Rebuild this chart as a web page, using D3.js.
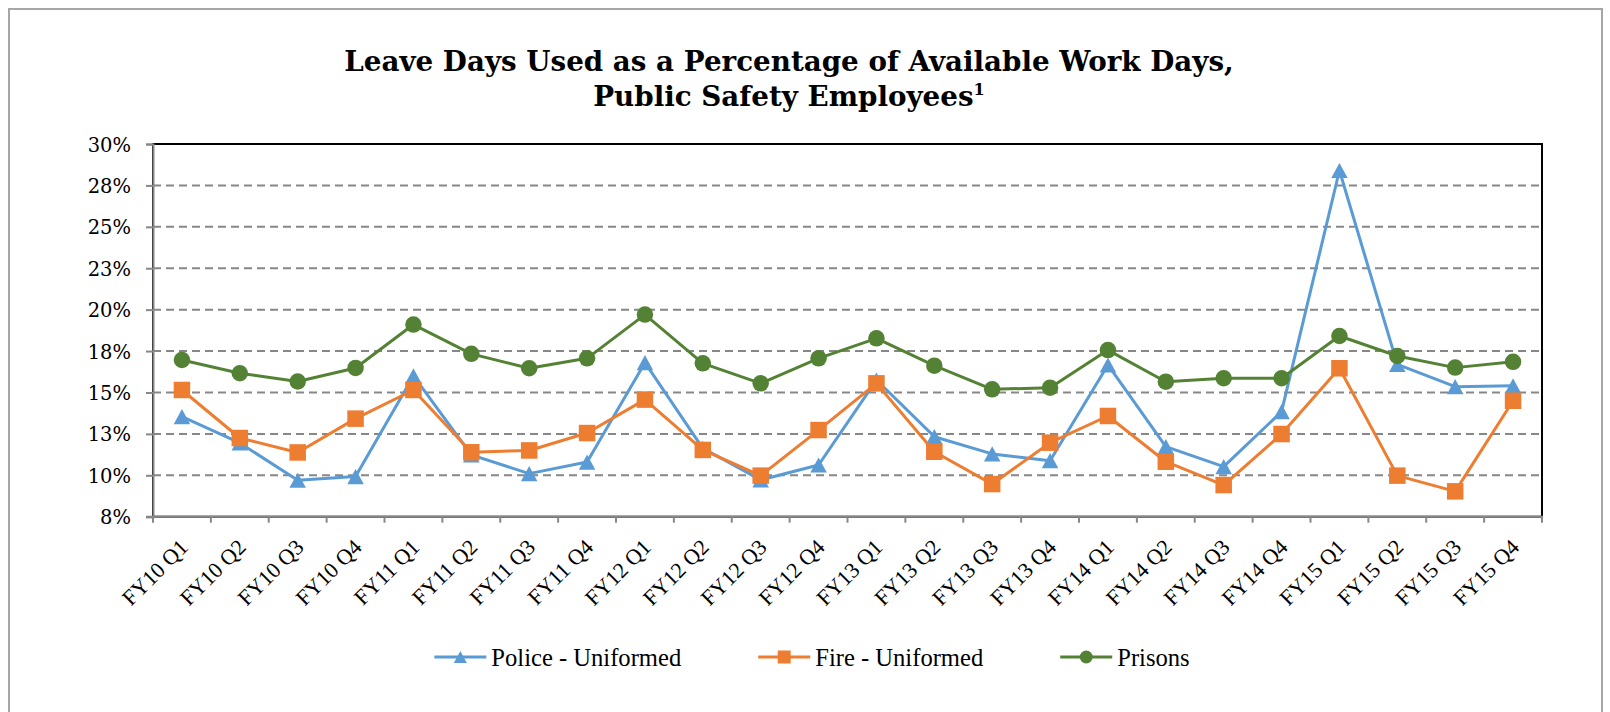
<!DOCTYPE html>
<html>
<head>
<meta charset="utf-8">
<script src="https://cdn.jsdelivr.net/npm/d3@7"></script>
<style>
  html, body { margin: 0; padding: 0; background: #ffffff; }
  svg { display: block; }
</style>
</head>
<body>
<script>
// ---------------- data ----------------
const categories = ["FY10 Q1","FY10 Q2","FY10 Q3","FY10 Q4","FY11 Q1","FY11 Q2","FY11 Q3","FY11 Q4",
  "FY12 Q1","FY12 Q2","FY12 Q3","FY12 Q4","FY13 Q1","FY13 Q2","FY13 Q3","FY13 Q4",
  "FY14 Q1","FY14 Q2","FY14 Q3","FY14 Q4","FY15 Q1","FY15 Q2","FY15 Q3","FY15 Q4"];

const policeValues = [13.54, 11.95, 9.70, 9.92, 16.00, 11.23, 10.10, 10.80,
  16.80, 11.63, 9.72, 10.62, 15.75, 12.33, 11.29, 10.88,
  16.66, 11.73, 10.52, 13.84, 28.40, 16.70, 15.35, 15.40];

const fireValues = [15.15, 12.25, 11.38, 13.42, 15.15, 11.39, 11.50, 12.55,
  14.57, 11.53, 9.98, 12.73, 15.55, 11.42, 9.47, 11.97,
  13.58, 10.82, 9.41, 12.49, 16.46, 9.98, 9.03, 14.50];

const prisonsValues = [16.96, 16.16, 15.66, 16.48, 19.10, 17.33, 16.46, 17.06,
  19.70, 16.76, 15.55, 17.06, 18.27, 16.62, 15.19, 15.29,
  17.56, 15.65, 15.86, 15.86, 18.41, 17.20, 16.50, 16.85];

const seriesNames = ["Police - Uniformed", "Fire - Uniformed", "Prisons"];
const yTicks = [7.5, 10, 12.5, 15, 17.5, 20, 22.5, 25, 27.5, 30];
const yTickLabels = ["8%","10%","13%","15%","18%","20%","23%","25%","28%","30%"];
const titleLine1 = "Leave Days Used as a Percentage of Available Work Days,";
const titleLine2 = "Public Safety Employees";
const titleSup = "1";

// ---------------- layout ----------------
const W = 1610, H = 712;
const plot = { left: 153, right: 1542, top: 144, bottom: 516.7 };
const colors = ["#5B9BD5", "#ED7D31", "#548235"];
const markerTypes = ["triangle", "square", "circle"];
const seriesData = [policeValues, fireValues, prisonsValues];

const svg = d3.select("body").append("svg")
  .attr("width", W).attr("height", H)
  .attr("viewBox", `0 0 ${W} ${H}`);

svg.append("rect").attr("width", W).attr("height", H).attr("fill", "#fff");

// outer chart frame
svg.append("rect")
  .attr("x", 9).attr("y", 9).attr("width", 1593).attr("height", 720)
  .attr("fill", "none").attr("stroke", "#a6a6a6").attr("stroke-width", 2);

const xBand = d3.scaleBand().domain(categories).range([plot.left, plot.right]).paddingInner(0).paddingOuter(0);
const xPos = d => xBand(d) + xBand.bandwidth() / 2;
const y = d3.scaleLinear().domain([7.5, 30]).range([plot.bottom, plot.top]);

// gridlines
svg.append("g").selectAll("line")
  .data(yTicks.filter(t => t > 7.5 && t < 30))
  .join("line")
  .attr("x1", plot.left).attr("x2", plot.right)
  .attr("y1", d => y(d)).attr("y2", d => y(d))
  .attr("stroke", "#878787").attr("stroke-width", 2)
  .attr("stroke-dasharray", "8,5");

// plot area border (top/right black)
svg.append("rect")
  .attr("x", plot.left).attr("y", y(30))
  .attr("width", plot.right - plot.left).attr("height", y(7.5) - y(30))
  .attr("fill", "none").attr("stroke", "#000").attr("stroke-width", 2);

// y axis
const yAxis = d3.axisLeft(y).tickValues(yTicks).tickSize(7).tickPadding(22)
  .tickFormat((d, i) => yTickLabels[i]);
const yg = svg.append("g").attr("transform", `translate(${plot.left},0)`).call(yAxis);
yg.select(".domain").attr("stroke", "#878787").attr("stroke-width", 2);
yg.selectAll(".tick line").attr("stroke", "#878787").attr("stroke-width", 2);
yg.selectAll(".tick text")
  .attr("font-family", "'DejaVu Serif', serif").attr("font-size", 19.5)
  .attr("fill", "#000").attr("x", 131 - plot.left).attr("dy", "0.36em");

// x axis (ticks at category boundaries)
const xg = svg.append("g").attr("transform", `translate(0,${plot.bottom})`);
xg.append("line").attr("x1", plot.left - 7).attr("x2", plot.right + 1)
  .attr("stroke", "#878787").attr("stroke-width", 2);
const boundaries = categories.map(c => xBand(c)).concat([plot.right]);
xg.selectAll("line.tk").data(boundaries).join("line").attr("class", "tk")
  .attr("x1", d => d).attr("x2", d => d).attr("y1", 0).attr("y2", 6)
  .attr("stroke", "#878787").attr("stroke-width", 2);
xg.selectAll("text").data(categories).join("text")
  .attr("transform", d => `translate(${xPos(d) + 2},${543 - plot.bottom}) rotate(-45)`)
  .attr("text-anchor", "end").attr("dy", "0.35em")
  .attr("font-family", "'Liberation Serif', serif").attr("font-size", 22)
  .attr("fill", "#000").text(d => d);

// marker helper
function drawMarker(g, type, cx, cy, size, color) {
  if (type === "circle") {
    g.append("circle").attr("cx", cx).attr("cy", cy).attr("r", size / 2).attr("fill", color);
  } else if (type === "square") {
    g.append("rect").attr("x", cx - size / 2).attr("y", cy - size / 2)
      .attr("width", size).attr("height", size).attr("fill", color);
  } else {
    const h = size * 0.92;
    g.append("path")
      .attr("d", `M${cx},${cy - h / 2}L${cx + size / 2},${cy + h / 2}L${cx - size / 2},${cy + h / 2}Z`)
      .attr("fill", color);
  }
}

// series
const line = d3.line().x((d, i) => xPos(categories[i])).y(d => y(d));
seriesData.forEach((vals, s) => {
  const g = svg.append("g");
  g.append("path").datum(vals).attr("d", line)
    .attr("fill", "none").attr("stroke", colors[s]).attr("stroke-width", 3)
    .attr("stroke-linejoin", "round");
  vals.forEach((v, i) => drawMarker(g, markerTypes[s], xPos(categories[i]), y(v), 16.5, colors[s]));
});

// title
const titleCx = 789;
const t1 = svg.append("text").attr("x", titleCx).attr("y", 71).attr("text-anchor", "middle")
  .attr("font-family", "'DejaVu Serif', serif").attr("font-weight", "bold")
  .attr("font-size", 28).attr("fill", "#000").text(titleLine1);
const w1 = t1.node().getComputedTextLength();
const titleSize = 28 * 890 / w1;
t1.attr("font-size", titleSize);
const t2 = svg.append("text").attr("x", titleCx).attr("y", 106).attr("text-anchor", "middle")
  .attr("font-family", "'DejaVu Serif', serif").attr("font-weight", "bold")
  .attr("font-size", titleSize).attr("fill", "#000");
t2.append("tspan").text(titleLine2);
t2.append("tspan").attr("font-size", titleSize * 0.58).attr("dy", -titleSize * 0.38).text(titleSup);

// legend
const legendY = 657;
const lg = svg.append("g");
const probe = lg.append("text").attr("font-family", "'Liberation Serif', serif").attr("font-size", 24).text(seriesNames[0]);
const legendSize = 24 * 190 / probe.node().getComputedTextLength();
probe.remove();
const items = seriesNames.map((name, s) => {
  const t = lg.append("text").attr("font-family", "'Liberation Serif', serif")
    .attr("font-size", legendSize).attr("fill", "#000").attr("y", legendY + 9).text(name);
  return { t, w: t.node().getComputedTextLength(), s };
});
const lineLen = 52, textGap = 5, itemGap = 77;
const totalW = items.reduce((a, it) => a + lineLen + textGap + it.w, 0) + itemGap * (items.length - 1);
let cx = 812 - totalW / 2;
items.forEach(it => {
  lg.append("line").attr("x1", cx).attr("x2", cx + lineLen).attr("y1", legendY).attr("y2", legendY)
    .attr("stroke", colors[it.s]).attr("stroke-width", 3);
  drawMarker(lg, markerTypes[it.s], cx + lineLen / 2, legendY, 13, colors[it.s]);
  it.t.attr("x", cx + lineLen + textGap);
  cx += lineLen + textGap + it.w + itemGap;
});
</script>
</body>
</html>
